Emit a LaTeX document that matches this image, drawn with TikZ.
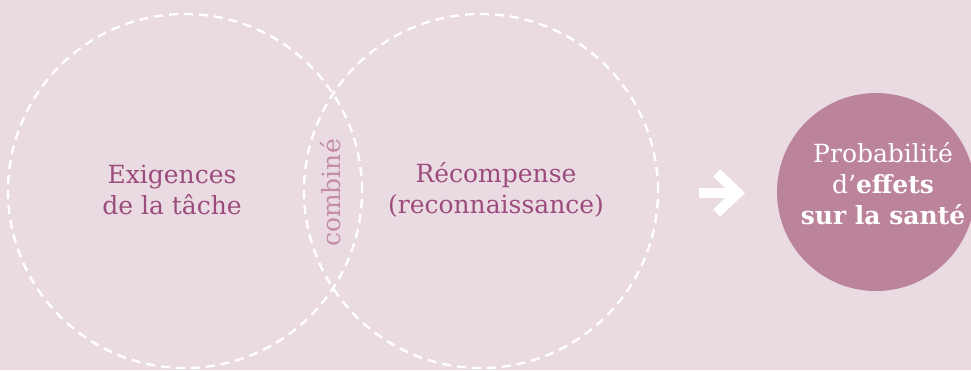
\documentclass[tikz,border=0pt]{standalone}
\usepackage{fontspec}
\setmainfont{DejaVu Serif}
\usetikzlibrary{positioning, arrows.meta}

\definecolor{bgpink}{RGB}{234,218,226}
\definecolor{mauve}{RGB}{156,76,124}
\definecolor{palemauve}{RGB}{195,140,168}
\definecolor{plum}{RGB}{188,132,155}

\begin{document}
\begin{tikzpicture}[
    x=1pt, y=-1pt, % one unit per pixel, y going down
    node distance=296pt, % distance between the centres of the two sets
    set/.style={circle, draw=white, dash pattern=on 9pt off 6pt, line width=2.4pt, minimum size=354pt, inner sep=0pt},
    settext/.style={text=mauve, align=center, font=\fontsize{25}{31}\selectfont},
    outcome/.style={circle, fill=plum, minimum size=198pt, inner sep=0pt},
    outtext/.style={text=white, align=center, font=\fontsize{25}{31}\selectfont},
    bigarrow/.style={draw=white, line width=10pt, -{Straight Barb[length=21pt, width=40pt, line width=10pt]}}
]

% Background and picture size
\fill[bgpink] (0,0) rectangle (971,370);
\useasboundingbox (0,0) rectangle (971,370);

% The two sets
\node[set] (demand) at (185,191) {};
\node[set] (reward) [right of=demand] {};

% Texts in the sets
\node[settext] (demandtext) at (172,190) {Exigences\\de la tâche};
\node[settext] (rewardtext) at (496,190) {Récompense\\(reconnaissance)};
\node[settext, text=palemauve, rotate=90] (both) at (331,193) {combiné};

% Outcome
\node[outcome] (prob) at (876,192) {};
\node[outtext] (probtext) at (883,184) {Probabilité\\d’\textbf{effets}\\\textbf{sur la santé}};

% Arrow towards the outcome
\coordinate (tail) at (699,193);
\coordinate (head) at (745,193);
\path (tail) edge[bigarrow] (head);

\end{tikzpicture}
\end{document}
